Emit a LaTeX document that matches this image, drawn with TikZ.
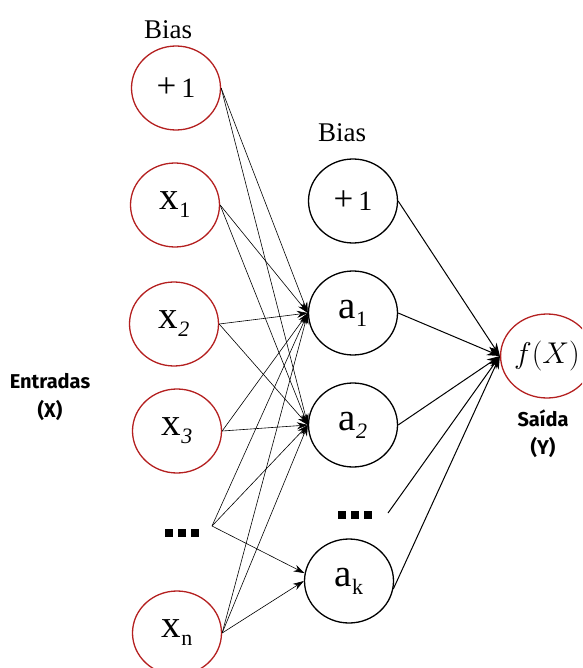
\RequirePackage{fix-cm}
\documentclass[tikz,border=0pt]{standalone}
\usepackage{fontspec}
\setmainfont{Liberation Serif}
\newfontfamily\labfont{Fira Sans}
\usetikzlibrary{shapes.geometric,arrows.meta}
\definecolor{nred}{RGB}{180,32,32}
\newcommand\nsub[1]{\raisebox{-8pt}{\fontsize{22}{22}\selectfont #1}}
\newcommand\plusone{{\fontsize{35}{35}\selectfont +}\hspace{5pt}1}
\newcommand\threedots{\rule{7.5pt}{7.5pt}\hspace{5.5pt}\rule{7.5pt}{7.5pt}\hspace{5.5pt}\rule{7.5pt}{7.5pt}}
\begin{document}
\begin{tikzpicture}[x=1pt,y=-1pt,
  neuron/.style={ellipse, line width=1.3pt, minimum width=89pt, minimum height=84pt, inner sep=0pt, font=\fontsize{39}{40}\selectfont},
  inneuron/.style={neuron, draw=nred},
  hidneuron/.style={neuron, draw=black},
  onefont/.style={font=\fontsize{28}{30}\selectfont},
  thinedge/.style={line width=0.6pt, -{Stealth[length=11pt,width=7pt]}},
  thickedge/.style={line width=1pt, -{Stealth[length=13pt,width=9pt]}},
  biaslabel/.style={font=\fontsize{27}{30}\selectfont},
  sidelabel/.style={font=\labfont\bfseries\fontsize{20}{22}\selectfont, align=center, inner sep=0pt},
  dotsnode/.style={inner sep=0pt}
]
\useasboundingbox (0,0) rectangle (582,668);
\clip (0,0) rectangle (582,668);

% labels
\node[biaslabel] (biasL) at (168,30) {Bias};
\node[biaslabel] (biasM) at (342,133) {Bias};
\node[sidelabel] (entr) at (50,381) {Entradas};
\node[sidelabel] (entrx) at (50,410) {(X)};
\node[sidelabel] (said) at (543,418) {Saída};
\node[sidelabel] (saidy) at (543,447) {(Y)};

% input layer
\node[inneuron, onefont] (b1) at (176,88) {\plusone};
\node[inneuron] (x1) at (175,205) {x\nsub{1}};
\node[inneuron] (x2) at (174,324) {x\nsub{\itshape 2}};
\node[inneuron] (x3) at (177,431) {x\nsub{\itshape 3}};
\node[dotsnode] (dL) at (182,533) {\threedots};
\coordinate (dLo) at (212,526);
\node[inneuron] (xn) at (177,633) {x\nsub{n}};

% hidden layer
\node[hidneuron, onefont] (b2) at (353,201) {\plusone};
\node[hidneuron] (a1) at (353,313) {a\nsub{1}};
\node[hidneuron] (a2) at (353,425) {a\nsub{\itshape 2}};
\node[dotsnode] (dM) at (355,515) {\threedots};
\coordinate (dMo) at (388,513);
\node[hidneuron] (ak) at (349,581) {a\nsub{k}};

% output
\node[inneuron, font=\fontsize{30}{32}\selectfont] (out) at (547,356) {$f(X)$};

% input -> hidden
\foreach \s in {b1,x1,x2,x3,xn}{
  \draw[thinedge] (\s.east) -- (a1.west);
  \draw[thinedge] (\s.east) -- (a2.west);
}
\draw[thinedge] (dLo) -- (a1.west);
\draw[thinedge] (dLo) -- (a2.west);
\draw[thinedge] (dLo) -- (ak.170);
\draw[thinedge] (xn.east) -- (ak.west);

% hidden -> output
\draw[thickedge] (b2.east) -- (out.west);
\draw[thickedge] (a1.east) -- (out.west);
\draw[thickedge] (a2.east) -- (out.west);
\draw[thickedge] (dMo) -- (out.west);
\draw[thickedge] (ak.-10) -- (out.west);
\end{tikzpicture}
\end{document}
